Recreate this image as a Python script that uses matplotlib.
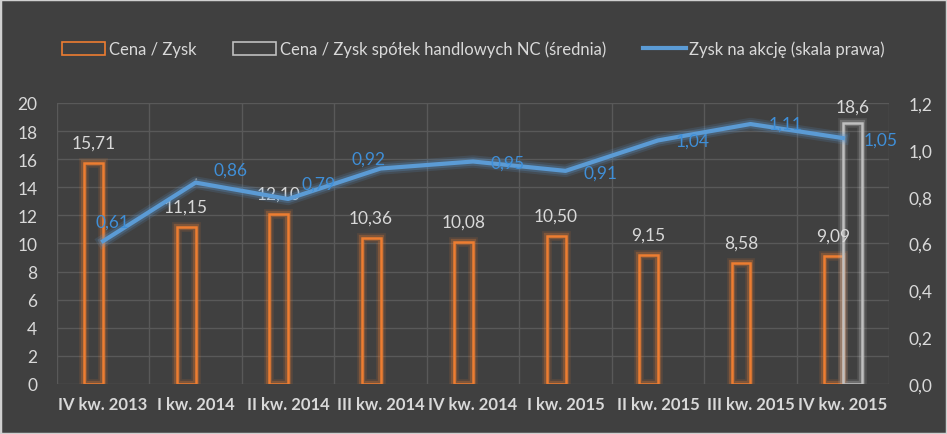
import matplotlib.pyplot as plt
import matplotlib.patheffects as pe
from matplotlib.patches import Patch, Rectangle
from matplotlib.lines import Line2D
import numpy as np

kwartaly = ["IV kw. 2013", "I kw. 2014", "II kw. 2014", "III kw. 2014", "IV kw. 2014",
            "I kw. 2015", "II kw. 2015", "III kw. 2015", "IV kw. 2015"]
cena_zysk = [15.71, 11.15, 12.10, 10.36, 10.08, 10.50, 9.15, 8.58, 9.09]
cena_zysk_nc = [np.nan] * 8 + [18.6]
zysk_na_akcje = [0.61, 0.86, 0.79, 0.92, 0.95, 0.91, 1.04, 1.11, 1.05]
# przesunięcia etykiet linii (w punktach)
przes_etykiet = [(7, 14), (25, 9), (22, 11), (-9, 7), (25, -1), (25, -1), (25, 0), (25, 0), (27, -1)]

tlo = "#404040"
pomaranczowy = "#ed7d31"
szary = "#bfbfbf"
niebieski = "#5b9bd5"
tekst = "#d9d9d9"
siatka = "#595959"

plt.rcParams['font.family'] = ['Lato', 'DejaVu Sans']

fig = plt.figure(figsize=(9.47, 4.35), dpi=100, facecolor=tlo)
fig.patches.append(Rectangle((0, 0), 1, 1, transform=fig.transFigure, fill=False,
                             edgecolor="#d0d0d0", linewidth=2.5))
ax = fig.add_axes([0.060, 0.115, 0.879, 0.646], facecolor=tlo)
ax2 = ax.twinx()

x = np.arange(len(kwartaly))
w = 0.205

glow_o = [pe.Stroke(linewidth=7, foreground=pomaranczowy, alpha=0.13),
          pe.Stroke(linewidth=4.5, foreground=pomaranczowy, alpha=0.28), pe.Normal()]
glow_s = [pe.Stroke(linewidth=7, foreground=szary, alpha=0.13),
          pe.Stroke(linewidth=4.5, foreground=szary, alpha=0.28), pe.Normal()]

b1 = ax.bar(x - w / 2, cena_zysk, w, facecolor="none", edgecolor=pomaranczowy, linewidth=1.8)
b2 = ax.bar(x + w / 2, cena_zysk_nc, w, facecolor="none", edgecolor=szary, linewidth=1.8)
for b in b1:
    b.set_path_effects(glow_o)
for b in b2:
    b.set_path_effects(glow_s)

for xi, v in zip(x, cena_zysk):
    ax.annotate(f"{v:.2f}".replace(".", ","), (xi - w / 2, v), xytext=(0, 9),
                textcoords="offset points", ha="center", va="bottom", color=tekst, fontsize=12.5)
for xi, v in zip(x, cena_zysk_nc):
    if not np.isnan(v):
        ax.annotate(f"{v:.1f}".replace(".", ","), (xi + w / 2, v), xytext=(0, 6),
                    textcoords="offset points", ha="center", va="bottom", color=tekst, fontsize=12.5)

ax2.plot(x, zysk_na_akcje, color=niebieski, linewidth=3,
         path_effects=[pe.Stroke(linewidth=9, foreground=niebieski, alpha=0.15),
                       pe.Stroke(linewidth=6, foreground=niebieski, alpha=0.25), pe.Normal()])
for i, (xi, v) in enumerate(zip(x, zysk_na_akcje)):
    dx, dy = przes_etykiet[i]
    ap = None
    if i == 1:
        ap = dict(arrowstyle="-", color="#a6a6a6", linewidth=0.8, shrinkA=12, shrinkB=2,
                  connectionstyle="angle,angleA=0,angleB=80")
    ax2.annotate(f"{v:.2f}".replace(".", ","), (xi, v), xytext=(dx, dy),
                 textcoords="offset points", ha="center", va="center",
                 color="#3f8fd8", fontsize=12.5, arrowprops=ap)

ax.set_xlim(-0.5, len(kwartaly) - 0.5)
ax.set_ylim(0, 20)
ax.set_yticks(range(0, 21, 2))
ax2.set_ylim(0, 1.2)
ax2.set_yticks(np.arange(0, 1.21, 0.2))
ax2.set_yticklabels([f"{t:.1f}".replace(".", ",") for t in np.arange(0, 1.21, 0.2)])

ax.set_xticks(x)
ax.set_xticklabels(kwartaly, fontweight="bold", fontsize=12)
ax.set_xticks(np.arange(-0.5, len(kwartaly)), minor=True)
ax.grid(True, which="minor", axis="x", color=siatka, linewidth=1)
ax.grid(True, which="major", axis="y", color=siatka, linewidth=1)
ax.set_axisbelow(True)

for a in (ax, ax2):
    for s in a.spines.values():
        s.set_visible(False)
    a.tick_params(length=0, colors=tekst, labelsize=12.5)
ax.tick_params(axis="x", which="both", length=0, pad=9, labelsize=12)
ax.tick_params(axis="y", pad=14)
ax2.tick_params(axis="y", pad=14)

uchwyty = [Patch(facecolor="none", edgecolor=pomaranczowy, linewidth=1.2),
           Patch(facecolor="none", edgecolor=szary, linewidth=1.2),
           Line2D([], [], color=niebieski, linewidth=3)]
fig.legend(uchwyty, ["Cena / Zysk", "Cena / Zysk spółek handlowych NC (średnia)",
                     "Zysk na akcję (skala prawa)"],
           loc="center", bbox_to_anchor=(0.5, 0.885), ncol=3, frameon=False,
           labelcolor=tekst, fontsize=12, handlelength=2.6, handleheight=0.8,
           columnspacing=2.2, handletextpad=0.2)

plt.savefig("out.png", dpi=100, facecolor=tlo)
plt.close()
